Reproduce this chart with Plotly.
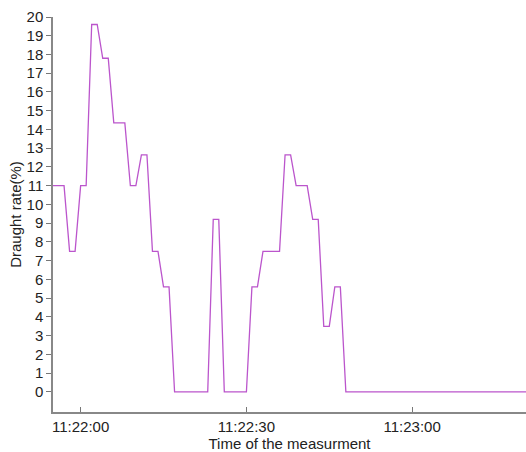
import plotly.graph_objects as go

day = "2024-01-01 "
times = ["11:21:55", "11:21:57", "11:21:58", "11:21:59", "11:22:00", "11:22:01",
         "11:22:02", "11:22:03", "11:22:04", "11:22:05", "11:22:06", "11:22:08",
         "11:22:09", "11:22:10", "11:22:11", "11:22:12", "11:22:13", "11:22:14",
         "11:22:15", "11:22:16", "11:22:17", "11:22:23", "11:22:24", "11:22:25",
         "11:22:26", "11:22:30", "11:22:31", "11:22:32", "11:22:33", "11:22:36",
         "11:22:37", "11:22:38", "11:22:39", "11:22:41", "11:22:42", "11:22:43",
         "11:22:44", "11:22:45", "11:22:46", "11:22:47", "11:22:48", "11:23:21"]
rates = [11.0, 11.0, 7.5, 7.5, 11.0, 11.0,
         19.6, 19.6, 17.8, 17.8, 14.35, 14.35,
         11.0, 11.0, 12.65, 12.65, 7.5, 7.5,
         5.6, 5.6, 0.0, 0.0, 9.2, 9.2,
         0.0, 0.0, 5.6, 5.6, 7.5, 7.5,
         12.65, 12.65, 11.0, 11.0, 9.2, 9.2,
         3.5, 3.5, 5.6, 5.6, 0.0, 0.0]
y_ticks = list(range(0, 21))
x_title = "Time of the measurment"
y_title = "Draught rate(%)"

x = [day + t for t in times]

fig = go.Figure()
fig.add_trace(go.Scatter(x=x, y=rates, mode="lines",
                         line=dict(color="#bb55cc", width=1.3),
                         showlegend=False))

fig.update_layout(
    width=526, height=452,
    margin=dict(l=53, r=0, t=17, b=40),
    paper_bgcolor="white", plot_bgcolor="white",
    font=dict(family="Liberation Sans, Arial, sans-serif", size=15, color="#222"),
)
fig.update_xaxes(
    type="date",
    range=[day + "11:21:55", day + "11:23:20.6"],
    tickformat="%H:%M:%S", dtick=30000, tick0=day + "11:22:00",
    ticks="inside", ticklen=5, tickcolor="#777", tickwidth=1,
    showline=True, linecolor="#888", linewidth=1.5,
    showgrid=False, zeroline=False,
    title=dict(text=x_title, standoff=0, font=dict(size=15)),
    tickfont=dict(size=15),
)
fig.update_yaxes(
    range=[-1.07, 20],
    tickvals=y_ticks,
    ticks="outside", ticklen=5, tickcolor="#777", tickwidth=1,
    showline=True, linecolor="#888", linewidth=1.5,
    showgrid=False, zeroline=False,
    title=dict(text=y_title, standoff=1, font=dict(size=15)),
    tickfont=dict(size=15),
)

fig.write_html("out.html")
